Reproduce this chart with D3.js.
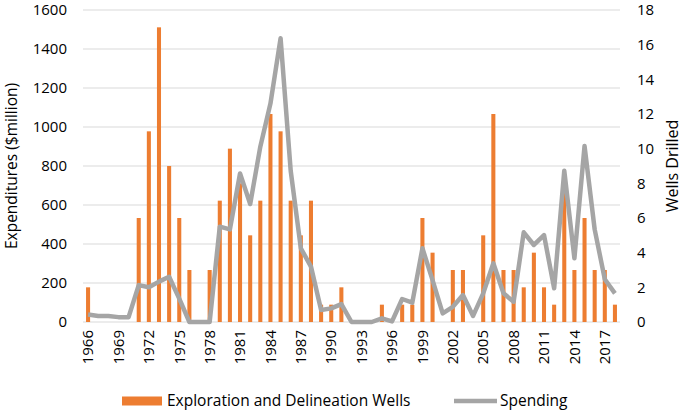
<!DOCTYPE html>
<html><head><meta charset="utf-8">
<script src="https://cdn.jsdelivr.net/npm/d3@7"></script>
<style>body{margin:0;background:#fff}svg{display:block}text{font-family:"Open Sans",sans-serif;fill:#000}</style>
</head><body>
<svg id="c" width="685" height="411"></svg>
<script>
const years = d3.range(1966, 2019);
const wells = [2,0,0,0,0,6,11,17,9,6,3,0,3,7,10,8,5,7,12,11,7,5,7,1,1,2,0,0,0,1,0,1,1,6,4,0,3,3,0,5,12,3,3,2,4,2,1,8,3,6,3,3,1];
const spending = [38,31,31,25,25,189,178,207,232,120,0,0,0,489,475,762,605,899,1120,1455,775,378,284,62,70,92,0,0,0,19,3,118,99,378,215,44,78,138,31,147,301,147,104,460,395,446,173,776,327,903,475,219,147];
const leftTicks = [0,200,400,600,800,1000,1200,1400,1600];
const rightTicks = [0,2,4,6,8,10,12,14,16,18];
const xTickYears = d3.range(1966, 2018, 3);

const svg = d3.select("#c");
const L = 83, R = 620, T = 10, B = 322;
const x = d3.scaleBand().domain(years).range([L, R]).paddingInner(0.6).paddingOuter(0.3);
const yL = d3.scaleLinear().domain([0,1600]).range([B, T]);
const yR = d3.scaleLinear().domain([0,18]).range([B, T]);
const fs = 15;

// gridlines
svg.append("g").selectAll("line").data(leftTicks).join("line")
  .attr("x1", L).attr("x2", R).attr("y1", d=>yL(d)).attr("y2", d=>yL(d))
  .attr("stroke", "#d9d9d9").attr("stroke-width", 1.2);

// bars
svg.append("g").selectAll("rect").data(years).join("rect")
  .attr("x", d=>x(d)).attr("width", x.bandwidth())
  .attr("y", (d,i)=>yR(wells[i])).attr("height", (d,i)=>B - yR(wells[i]))
  .attr("fill", "#ED7D31");

// line
const line = d3.line().x((d,i)=>x(years[i]) + x.bandwidth()/2).y(d=>yL(d));
svg.append("path").datum(spending).attr("d", line)
  .attr("fill","none").attr("stroke","#A5A5A5").attr("stroke-width",4.5).attr("stroke-linejoin","round");

// left axis
const gl = svg.append("g").attr("transform",`translate(${L},0)`)
  .call(d3.axisLeft(yL).tickValues(leftTicks).tickFormat(d3.format("d")).tickSize(0).tickPadding(16));
gl.select(".domain").remove();
gl.selectAll("text").style("font-size", fs+"px");

// right axis
const gr = svg.append("g").attr("transform",`translate(${R},0)`)
  .call(d3.axisRight(yR).tickValues(rightTicks).tickSize(0).tickPadding(17));
gr.select(".domain").remove();
gr.selectAll("text").style("font-size", fs+"px");

// x axis
const gx = svg.append("g").attr("transform",`translate(0,${B})`)
  .call(d3.axisBottom(x).tickValues(xTickYears).tickSize(0));
gx.select(".domain").remove();
gx.selectAll("text").style("font-size", fs+"px")
  .attr("text-anchor","end").attr("transform","rotate(-90)")
  .attr("x", -8).attr("y", 0).attr("dy","0.35em");

// axis titles
svg.append("text").attr("transform","translate(12,166) rotate(-90)")
  .attr("text-anchor","middle").attr("dy","0.35em").style("font-size","15.5px").text("Expenditures ($million)");
svg.append("text").attr("transform","translate(672,166) rotate(-90)")
  .attr("text-anchor","middle").attr("dy","0.35em").style("font-size","16px").text("Wells Drilled");

// legend
const lg = svg.append("g");
lg.append("rect").attr("x",122).attr("y",396.5).attr("width",40).attr("height",9).attr("fill","#ED7D31");
lg.append("text").attr("x",167).attr("y",406).style("font-size","15.5px").text("Exploration and Delineation Wells");
lg.append("line").attr("x1",454).attr("x2",497).attr("y1",401).attr("y2",401).attr("stroke","#A5A5A5").attr("stroke-width",4.5);
lg.append("text").attr("x",500).attr("y",406).style("font-size","15.5px").text("Spending");
</script>
</body></html>
